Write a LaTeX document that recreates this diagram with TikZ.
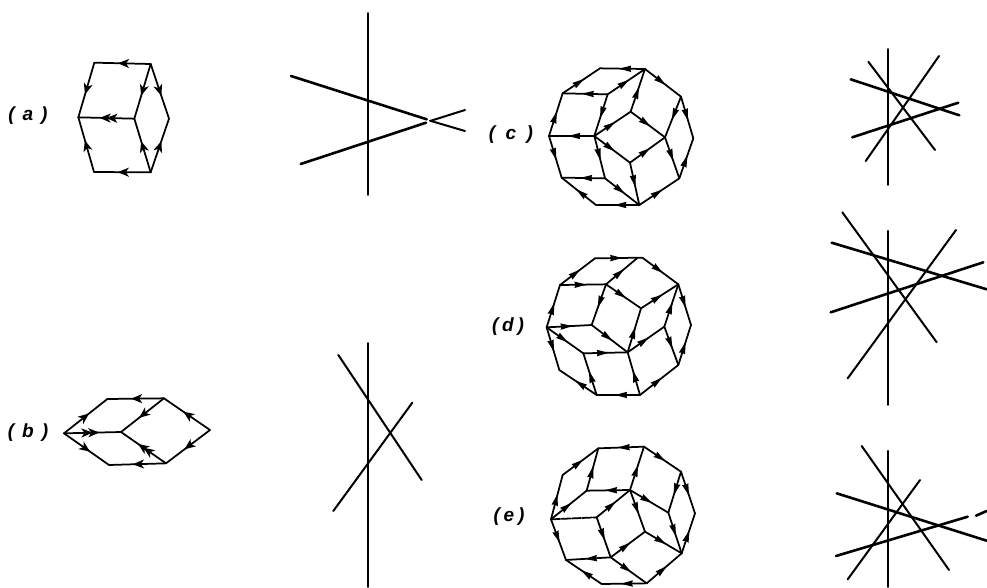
\documentclass[tikz,border=0pt]{standalone}
\usepackage{fontspec}
\setsansfont{Liberation Sans}
\usetikzlibrary{arrows.meta,decorations.markings}
\tikzset{
  bigtip/.tip={Stealth[length=11pt,width=9pt,inset=3pt]},
  smalltip/.tip={Stealth[length=12pt,width=6pt,inset=.6pt]},
  edgeline/.style={draw=black,line width=1.75pt,line cap=round,line join=round},
  fla/.style={edgeline,postaction={decorate,decoration={markings,mark=at position .58 with {\arrow{bigtip}}}}},
  fldbl/.style={edgeline,postaction={decorate,decoration={markings,mark=at position .5 with {\arrow{bigtip}},mark=at position .62 with {\arrow{bigtip}}}}},
  flc/.style={edgeline,postaction={decorate,decoration={markings,mark=at position .58 with {\arrow{smalltip}}}}},
  axis/.style={draw=black,line width=1.6pt,line cap=round},
  wire/.style={draw=black,line width=2pt,line cap=round},
  heavy/.style={draw=black,line width=2.6pt,line cap=round},
  lab/.style={font=\sffamily\bfseries\itshape\fontsize{19}{21}\selectfont,inner sep=0pt,text=black},
  zoomed/.style={x=.33333pt,y=-.33333pt}
}
\begin{document}
\begin{tikzpicture}[x=1pt,y=-1pt]
\useasboundingbox (0,0) rectangle (987,587);

\node[lab] (la) at (28,116) {(\hspace{.42em}a\hspace{.42em})};
\node[lab] (lb) at (28,433) {(\hspace{.42em}b\hspace{.42em})};
\node[lab] (lc) at (511,135) {(\hspace{.55em}c\hspace{.55em})};
\node[lab] (ld) at (508,327) {(\hspace{.2em}d\hspace{.2em})};
\node[lab] (le) at (509,517) {(\hspace{.2em}e\hspace{.2em})};

% (a)
\begin{scope}[zoomed,shift={(90,120)}]
\coordinate (a1) at (193,68); \coordinate (a2) at (362,72); \coordinate (a3) at (145,232);
\coordinate (a4) at (313,236); \coordinate (a5) at (417,236); \coordinate (a6) at (192,396);
\coordinate (a7) at (362,397);
\end{scope}
\foreach \p/\q in {a2/a1,a2/a4,a2/a5,a1/a3,a6/a3,a7/a6,a7/a4,a7/a5} \draw[fla] (\p) -- (\q);
\draw[fldbl] (a4) -- (a3);

% (b)
\begin{scope}[zoomed,shift={(90,1110)}]
\coordinate (b1) at (102,190); \coordinate (b2) at (232,87); \coordinate (b3) at (402,85);
\coordinate (b4) at (273,186); \coordinate (b5) at (540,180); \coordinate (b6) at (237,285);
\coordinate (b7) at (408,280);
\end{scope}
\foreach \p/\q in {b3/b2,b3/b4,b1/b2,b1/b6,b7/b6,b5/b3,b5/b7} \draw[fla] (\p) -- (\q);
\draw[fldbl] (b1) -- (b4);
\draw[fldbl] (b7) -- (b4);

% (c)
\begin{scope}[zoomed,shift={(1440,165)}]
\coordinate (cA) at (360,40); \coordinate (cB) at (495,42); \coordinate (cC) at (603,125);
\coordinate (cD) at (640,250); \coordinate (cE) at (598,370); \coordinate (cF) at (478,450);
\coordinate (cG) at (348,450); \coordinate (cH) at (245,368); \coordinate (cI) at (207,243);
\coordinate (cJ) at (248,115); \coordinate (cK) at (383,118); \coordinate (cL) at (452,170);
\coordinate (cM) at (343,243); \coordinate (cN) at (555,247); \coordinate (cO) at (450,323);
\coordinate (cP) at (375,370);
\end{scope}
\foreach \p/\q in {cB/cA,cB/cC,cC/cD,cE/cD,cF/cE,cF/cG,cG/cH,cI/cH,cI/cJ,cJ/cA,cK/cJ,cK/cB,cK/cM,cL/cB,cM/cL,cL/cN,cC/cN,cN/cE,cM/cO,cO/cN,cO/cF,cM/cP,cP/cF,cM/cI,cP/cH}
  \draw[flc] (\p) -- (\q);

% (d)
\begin{scope}[zoomed,shift={(1440,735)}]
\coordinate (dA) at (345,40); \coordinate (dB) at (487,38); \coordinate (dC) at (595,118);
\coordinate (dD) at (633,240); \coordinate (dE) at (595,360); \coordinate (dF) at (480,450);
\coordinate (dG) at (350,450); \coordinate (dH) at (238,375); \coordinate (dI) at (200,247);
\coordinate (dJ) at (240,120); \coordinate (dK) at (378,118); \coordinate (dL) at (483,190);
\coordinate (dM) at (335,240); \coordinate (dN) at (553,245); \coordinate (dO) at (443,322);
\coordinate (dP) at (310,325); \coordinate (dQ) at (472,39);
\end{scope}
\foreach \p/\q in {dA/dB,dB/dC,dC/dD,dE/dD,dF/dE,dF/dG,dG/dH,dI/dH,dI/dJ,dJ/dA,dJ/dK,dK/dQ,dK/dL,dL/dC,dK/dM,dI/dM,dM/dO,dI/dP,dP/dO,dO/dL,dO/dN,dN/dC,dN/dE,dF/dO,dG/dP}
  \draw[flc] (\p) -- (\q);

% (e)
\begin{scope}[zoomed,shift={(1440,1260)}]
\coordinate (eA) at (355,85); \coordinate (eB) at (492,80); \coordinate (eC) at (603,155);
\coordinate (eD) at (645,280); \coordinate (eE) at (605,400); \coordinate (eF) at (500,490);
\coordinate (eG) at (365,492); \coordinate (eH) at (258,420); \coordinate (eI) at (213,298);
\coordinate (eJ) at (248,165); \coordinate (eK) at (320,212); \coordinate (eL) at (450,210);
\coordinate (eM) at (350,292); \coordinate (eN) at (565,278); \coordinate (eO) at (495,335);
\coordinate (eP) at (392,412);
\end{scope}
\foreach \p/\q in {eB/eA,eB/eC,eC/eD,eE/eD,eF/eE,eF/eG,eG/eH,eI/eH,eI/eJ,eJ/eA,eK/eA,eL/eK,eL/eB,eI/eK,eM/eL,eL/eN,eC/eN,eL/eO,eN/eE,eM/eP,eP/eO,eO/eE,eP/eH,eP/eF}
  \draw[flc] (\p) -- (\q);
\draw[edgeline,dash pattern=on 9pt off 1.5pt] (eI) -- (eM);

% right-hand line diagrams
\coordinate (va1) at (368,13); \coordinate (va2) at (368,195);
\coordinate (ra1) at (291,76); \coordinate (ra2) at (426.7,119.3); \coordinate (ra3) at (430,120.7); \coordinate (ra4) at (465,131);
\coordinate (rb1) at (300.7,164); \coordinate (rb2) at (426,122.7); \coordinate (rb3) at (431,120.7); \coordinate (rb4) at (465,110);
\draw[axis] (va1) -- (va2);
\draw[heavy] (ra1) -- (ra2);
\draw[wire] (ra3) -- (ra4);
\draw[heavy] (rb1) -- (rb2);
\draw[wire] (rb3) -- (rb4);

\coordinate (vb1) at (368,343); \coordinate (vb2) at (368,587);
\coordinate (sa1) at (338.3,355); \coordinate (sa2) at (421.7,480);
\coordinate (sb1) at (412.3,402.7); \coordinate (sb2) at (333.3,511);
\draw[axis] (vb1) -- (vb2);
\draw[wire] (sa1) -- (sa2);
\draw[wire] (sb1) -- (sb2);

\coordinate (vc1) at (888,49); \coordinate (vc2) at (888,185);
\coordinate (ta1) at (850.7,79.3); \coordinate (ta2) at (959.3,115.3);
\coordinate (tb1) at (852.3,137.3); \coordinate (tb2) at (958.3,102.7);
\coordinate (tc1) at (868.3,61.7); \coordinate (tc2) at (935,150);
\coordinate (td1) at (939,56); \coordinate (td2) at (865.7,161);
\draw[axis] (vc1) -- (vc2);
\draw[heavy] (ta1) -- (ta2);
\draw[heavy] (tb1) -- (tb2);
\draw[wire] (tc1) -- (tc2);
\draw[wire] (td1) -- (td2);

\coordinate (vd1) at (888,230.7); \coordinate (vd2) at (888,405);
\coordinate (ua1) at (831.7,242.7); \coordinate (ua2) at (986.7,289.3);
\coordinate (ub1) at (830.7,312.3); \coordinate (ub2) at (983.3,262.3);
\coordinate (uc1) at (842.3,212.3); \coordinate (uc2) at (936.7,342.3);
\coordinate (ud1) at (956,230); \coordinate (ud2) at (847.7,378.3);
\draw[axis] (vd1) -- (vd2);
\draw[heavy] (ua1) -- (ua2);
\draw[heavy] (ub1) -- (ub2);
\draw[wire] (uc1) -- (uc2);
\draw[wire] (ud1) -- (ud2);

\coordinate (ve1) at (888,450.7); \coordinate (ve2) at (888,587);
\coordinate (wa1) at (836.7,493.3); \coordinate (wa2) at (986.7,540.7);
\coordinate (wb1) at (836,556); \coordinate (wb2) at (967.7,516.7);
\coordinate (wb3) at (976,515.7); \coordinate (wb4) at (986.7,511);
\coordinate (wc1) at (861.7,446); \coordinate (wc2) at (949,570);
\coordinate (wd1) at (920,480); \coordinate (wd2) at (847.7,579.3);
\draw[axis] (ve1) -- (ve2);
\draw[heavy] (wa1) -- (wa2);
\draw[heavy] (wb1) -- (wb2);
\draw[heavy] (wb3) -- (wb4);
\draw[wire] (wc1) -- (wc2);
\draw[wire] (wd1) -- (wd2);
\end{tikzpicture}
\end{document}
